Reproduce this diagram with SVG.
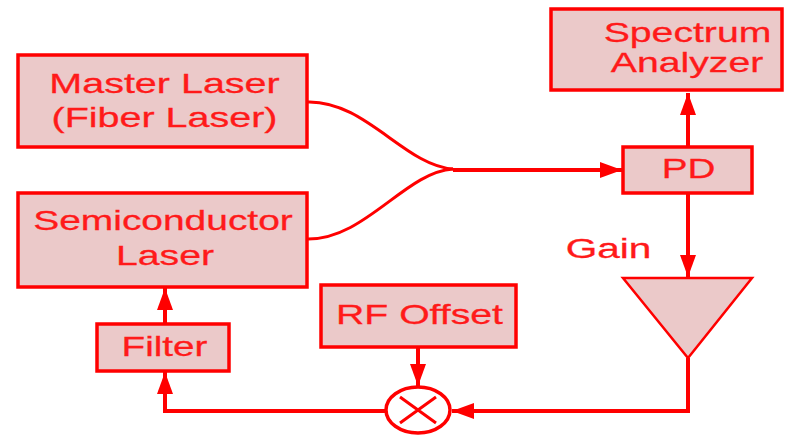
<svg xmlns="http://www.w3.org/2000/svg" width="810" height="435" viewBox="0 0 810 435">
<style>
.box{fill:#ebc9c9;stroke:#ff0000;stroke-width:3.5}
.t{font-family:"Liberation Sans",Arial,sans-serif;font-size:28px;fill:#ff1a1a;text-anchor:middle;stroke:#ff1a1a;stroke-width:0.3}
.ln{fill:none;stroke:#ff0000;stroke-width:4}
.cv{fill:none;stroke:#ff0000;stroke-width:3}
</style>
<defs>
<marker id="ah" markerUnits="userSpaceOnUse" markerWidth="24" markerHeight="16" refX="22" refY="8" orient="auto">
<path d="M0,0 L22,8 L0,16 z" fill="#ff0000"/>
</marker>
</defs>
<g id="connectors">
<path class="cv" d="M307,102 C365,100 405,166 453,169"/>
<path class="cv" d="M307,239 C365,240 405,172 453,169"/>
<path class="ln" d="M453,170 L622,170" marker-end="url(#ah)"/>
<path class="ln" d="M688,147 L688,93" marker-end="url(#ah)"/>
<path class="ln" d="M688,193 L688,277" marker-end="url(#ah)"/>
<path class="ln" d="M688,358 L688,411 L452,411" marker-end="url(#ah)"/>
<path class="ln" d="M418,347 L418,386" marker-end="url(#ah)"/>
<path class="ln" d="M386,411 L165,411 L165,372" marker-end="url(#ah)"/>
<path class="ln" d="M165,324 L165,288" marker-end="url(#ah)"/>
</g>
<g id="master">
<rect class="box" x="18" y="55" width="289" height="92"/>
<text class="t" transform="translate(164.5,93) scale(1.41,1)">Master Laser</text>
<text class="t" transform="translate(164.5,127) scale(1.41,1)">(Fiber Laser)</text>
</g>
<g id="semi">
<rect class="box" x="18" y="193" width="289" height="94"/>
<text class="t" transform="translate(163,230) scale(1.39,1)">Semiconductor</text>
<text class="t" transform="translate(165,265) scale(1.4,1)">Laser</text>
</g>
<g id="spectrum">
<rect class="box" x="551" y="9" width="231" height="81"/>
<text class="t" transform="translate(687.5,42) scale(1.4,1)">Spectrum</text>
<text class="t" transform="translate(687,72) scale(1.4,1)">Analyzer</text>
</g>
<g id="pd">
<rect class="box" x="623" y="147" width="129" height="46"/>
<text class="t" transform="translate(688.5,178) scale(1.38,1)">PD</text>
</g>
<g id="gain">
<polygon points="623,278 752,278 688,358" fill="#ebc9c9" stroke="#ff0000" stroke-width="2.5"/>
<text class="t" transform="translate(608.5,258) scale(1.45,1)">Gain</text>
</g>
<g id="rfoffset">
<rect class="box" x="321" y="285" width="195" height="62"/>
<text class="t" transform="translate(419.5,324) scale(1.4,1)">RF Offset</text>
</g>
<g id="filter">
<rect class="box" x="97" y="324" width="132" height="47"/>
<text class="t" transform="translate(164.5,356) scale(1.38,1)">Filter</text>
</g>
<g id="mixer">
<ellipse cx="418" cy="410" rx="32" ry="23" fill="#ffffff" stroke="#ff0000" stroke-width="3.5"/>
<path d="M400,397 L436,423 M436,397 L400,423" stroke="#ff0000" stroke-width="3" fill="none"/>
</g>
</svg>
